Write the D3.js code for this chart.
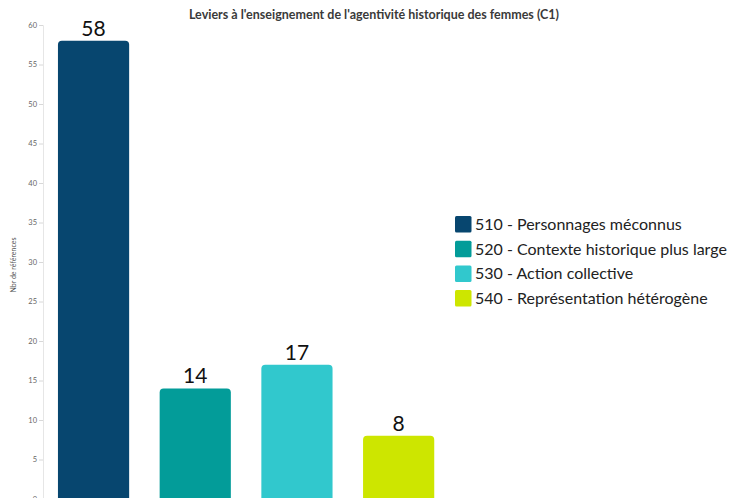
<!DOCTYPE html>
<html>
<head>
<meta charset="utf-8">
<script src="https://cdn.jsdelivr.net/npm/d3@7"></script>
<style>
  body { margin: 0; background: #fff; }
  text { font-family: Lato, "Open Sans", sans-serif; }
</style>
</head>
<body>
<div id="chart"></div>
<script>
var svgWidth = 733;
var svgHeight = 498;

// Data
var categories = ["510 - Personnages méconnus", "520 - Contexte historique plus large", "530 - Action collective", "540 - Représentation hétérogène"];
var values = [58, 14, 17, 8];
var colors = ["#07466f", "#039c99", "#31c8cd", "#cde600"];
var yTicks = [0, 5, 10, 15, 20, 25, 30, 35, 40, 45, 50, 55, 60];

var subtitle = "Leviers à l'enseignement de l'agentivité historique des femmes (C1)";
var yTitle = "Nbr de références";

var svg = d3.select("#chart")
    .append("svg")
    .attr("width", svgWidth)
    .attr("height", svgHeight);

// Scales
var xScale = d3.scaleBand()
    .domain(categories)
    .range([42.7, 449.5])
    .paddingInner(0.3)
    .paddingOuter(0.15);

var yScale = d3.scaleLinear()
    .domain([0, 60])
    .range([499, 25]);

// Y axis
var leftAxis = d3.axisLeft(yScale)
    .tickValues(yTicks)
    .tickSize(4)
    .tickPadding(2);

var axisG = svg.append("g")
    .attr("transform", "translate(43, 0)")
    .call(leftAxis);

axisG.select(".domain").attr("stroke", "#e6e6e6");
axisG.selectAll(".tick line").attr("stroke", "#d8d8d8");
axisG.selectAll(".tick text")
    .attr("fill", "#666")
    .attr("font-size", "7.5px")
    .attr("font-family", "'Open Sans', sans-serif");

// Bars with rounded top corners
var r = 4;
function barPath(d, i) {
    var x0 = xScale(categories[i]);
    var w = xScale.bandwidth();
    var y0 = yScale(d);
    var yb = yScale(0) + 2;
    return "M" + x0 + "," + yb +
        "V" + (y0 + r) +
        "Q" + x0 + "," + y0 + " " + (x0 + r) + "," + y0 +
        "H" + (x0 + w - r) +
        "Q" + (x0 + w) + "," + y0 + " " + (x0 + w) + "," + (y0 + r) +
        "V" + yb + "Z";
}

svg.append("g")
    .selectAll("path")
    .data(values)
    .enter()
    .append("path")
    .attr("d", barPath)
    .attr("fill", (d, i) => colors[i]);

// Value labels
svg.append("g")
    .selectAll("text")
    .data(values)
    .enter()
    .append("text")
    .attr("x", (d, i) => xScale(categories[i]) + xScale.bandwidth() / 2)
    .attr("y", d => yScale(d) - 5)
    .attr("text-anchor", "middle")
    .attr("font-size", "21px")
    .attr("fill", "#111")
    .text(d => d);

// Subtitle
svg.append("text")
    .attr("x", 374)
    .attr("y", 19)
    .attr("text-anchor", "middle")
    .attr("font-size", "12.5px")
    .attr("font-weight", "bold")
    .attr("fill", "#3a3a3a")
    .text(subtitle);

// Y axis title
svg.append("text")
    .attr("transform", "translate(16, 265) rotate(-90)")
    .attr("text-anchor", "middle")
    .attr("font-size", "7px")
    .attr("fill", "#555")
    .text(yTitle);

// Legend
var legend = svg.append("g")
    .attr("transform", "translate(455, 216)");

var items = legend.selectAll("g")
    .data(categories)
    .enter()
    .append("g")
    .attr("transform", (d, i) => `translate(0, ${i * 24.7})`);

items.append("rect")
    .attr("width", 16.5)
    .attr("height", 16.5)
    .attr("rx", 1.5)
    .attr("fill", (d, i) => colors[i]);

items.append("text")
    .attr("x", 20)
    .attr("y", 14)
    .attr("font-size", "16px")
    .attr("fill", "#222")
    .text(d => d);
</script>
</body>
</html>
